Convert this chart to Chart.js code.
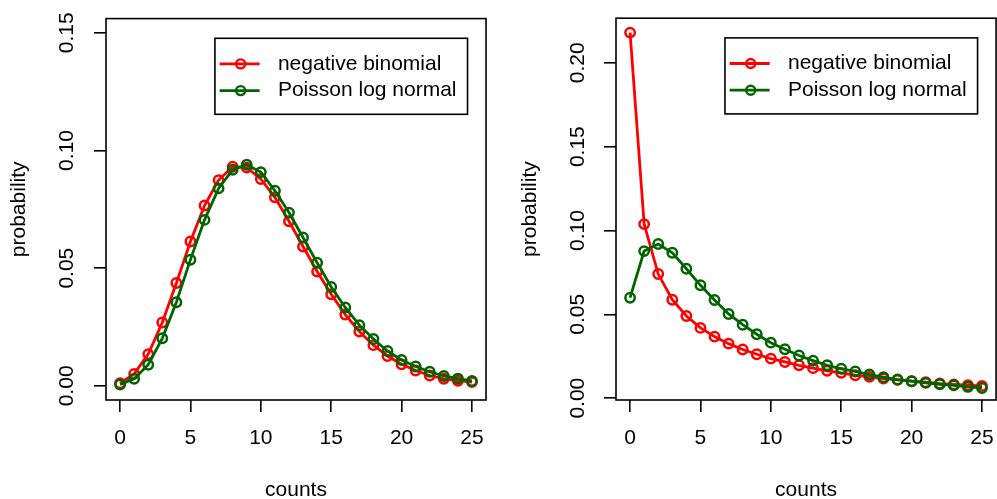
<!DOCTYPE html>
<html>
<head>
<meta charset="utf-8">
<script src="https://cdn.jsdelivr.net/npm/chart.js@4.4.1/dist/chart.umd.min.js"></script>
<style>
  html, body { margin: 0; padding: 0; background: #fff; overflow: hidden; }
  #wrap { position: relative; width: 997px; height: 499px; overflow: hidden; }
  canvas { position: absolute; top: 0; }
  #left { left: 0; }
  #right { left: 498px; }
</style>
</head>
<body>
<div id="wrap">
  <canvas id="left" width="498" height="499"></canvas>
  <canvas id="right" width="510" height="499"></canvas>
</div>
<script>
// data
const counts = [0, 1, 2, 3, 4, 5, 6, 7, 8, 9, 10, 11, 12, 13, 14, 15, 16, 17, 18, 19, 20, 21, 22, 23, 24, 25];
const seriesNames = ['negative binomial', 'Poisson log normal'];

const leftNegBin = [0.0011, 0.0051, 0.0135, 0.0269, 0.0437, 0.0613, 0.0766, 0.0874, 0.0931, 0.0927, 0.0879, 0.0801, 0.0699,
  0.0592, 0.0486, 0.0389, 0.0303, 0.0231, 0.0173, 0.0127, 0.0092, 0.0065, 0.0044, 0.0030, 0.0022, 0.0016];
const leftPoisLN = [0.0006, 0.0030, 0.0090, 0.0202, 0.0355, 0.0536, 0.0705, 0.0839, 0.0918, 0.0939, 0.0908, 0.0829, 0.0736,
  0.0630, 0.0523, 0.0420, 0.0333, 0.0258, 0.0199, 0.0148, 0.0110, 0.0082, 0.0060, 0.0042, 0.0031, 0.0021];

const rightNegBin = [0.2180, 0.1038, 0.0740, 0.0587, 0.0490, 0.0419, 0.0367, 0.0325, 0.0290, 0.0262, 0.0236, 0.0216, 0.0196,
  0.0179, 0.0163, 0.0151, 0.0137, 0.0127, 0.0117, 0.0109, 0.0101, 0.0095, 0.0087, 0.0082, 0.0077, 0.0073];
const rightPoisLN = [0.0599, 0.0877, 0.0919, 0.0867, 0.0772, 0.0673, 0.0585, 0.0502, 0.0438, 0.0381, 0.0331, 0.0292, 0.0254,
  0.0224, 0.0196, 0.0175, 0.0159, 0.0141, 0.0125, 0.0111, 0.0101, 0.0091, 0.0083, 0.0076, 0.0067, 0.0061];

const xTicks = [0, 5, 10, 15, 20, 25];
const leftYTicks = [0, 0.05, 0.10, 0.15];
const rightYTicks = [0, 0.05, 0.10, 0.15, 0.20];

const FONT = "'Liberation Sans', Arial, Helvetica, sans-serif";
Chart.defaults.font.family = FONT;
Chart.defaults.font.size = 21;
Chart.defaults.color = '#000';

// R style frame around the plot region plus the legend box in the top right
const rFrame = {
  id: 'rFrame',
  afterDraw(chart) {
    const ctx = chart.ctx;
    const a = chart.chartArea;
    ctx.save();
    ctx.strokeStyle = '#000';
    ctx.lineWidth = 1.6;
    ctx.strokeRect(a.left, a.top, a.right - a.left, a.bottom - a.top);

    // legend
    ctx.font = '21px ' + FONT;
    const widths = chart.data.datasets.map(d => ctx.measureText(d.label).width);
    const boxW = 63 + Math.max(...widths) + 11;
    const boxH = 76;
    const bx = a.right - 18.5 - boxW;
    const by = a.top + 19.7;
    ctx.fillStyle = '#fff';
    ctx.fillRect(bx, by, boxW, boxH);
    ctx.strokeRect(bx, by, boxW, boxH);
    chart.data.datasets.forEach((d, i) => {
      const y = by + 25.6 + i * 26.7;
      ctx.strokeStyle = d.borderColor;
      ctx.lineWidth = 2.8;
      ctx.beginPath();
      ctx.moveTo(bx + 4.7, y);
      ctx.lineTo(bx + 44.7, y);
      ctx.stroke();
      ctx.lineWidth = 2.4;
      ctx.beginPath();
      ctx.arc(bx + 25.7, y, 4.5, 0, Math.PI * 2);
      ctx.stroke();
      ctx.fillStyle = '#000';
      ctx.textBaseline = 'middle';
      ctx.textAlign = 'left';
      ctx.fillText(d.label, bx + 63, y);
    });
    ctx.restore();
  }
};

function makePanel(id, negBin, poisLN, yMin, yMax, yTicks, opts) {
  const ctx = document.getElementById(id).getContext('2d');
  return new Chart(ctx, {
    type: 'line',
    data: {
      datasets: [
        {
          label: seriesNames[0],
          data: counts.map((c, i) => ({x: c, y: negBin[i]})),
          borderColor: '#ff0000',
          borderWidth: 2.8,
          pointRadius: 4.7,
          pointBorderWidth: 2.5,
          pointBackgroundColor: 'rgba(0,0,0,0)',
          pointBorderColor: '#ff0000',
          tension: 0,
          order: 1
        },
        {
          label: seriesNames[1],
          data: counts.map((c, i) => ({x: c, y: poisLN[i]})),
          borderColor: '#006400',
          borderWidth: 2.8,
          pointRadius: 4.7,
          pointBorderWidth: 2.5,
          pointBackgroundColor: 'rgba(0,0,0,0)',
          pointBorderColor: '#006400',
          tension: 0,
          order: 0
        }
      ]
    },
    options: {
      responsive: false,
      animation: false,
      layout: { padding: { top: 17, right: opts.padRight, bottom: 0, left: 0 } },
      plugins: { legend: { display: false }, tooltip: { enabled: false } },
      scales: {
        x: {
          type: 'linear',
          min: -1,
          max: 26,
          afterBuildTicks: s => { s.ticks = xTicks.map(v => ({value: v})); },
          afterFit: s => { s.height = 99; },
          grid: { drawOnChartArea: false, drawTicks: true, tickLength: 12, color: '#000', lineWidth: 1.6 },
          border: { display: false },
          ticks: { padding: 14, autoSkip: false, maxRotation: 0, color: '#000',
            callback: v => String(v) },
          title: { display: true, text: 'counts', color: '#000',
            font: { size: 21, lineHeight: 1 }, padding: { top: 0, bottom: -1.5 } }
        },
        y: {
          type: 'linear',
          min: yMin,
          max: yMax,
          afterBuildTicks: s => { s.ticks = yTicks.map(v => ({value: v})); },
          afterFit: s => { s.width = opts.yWidth; },
          grid: { drawOnChartArea: false, drawTicks: true, tickLength: 12, color: '#000', lineWidth: 1.6 },
          border: { display: false },
          ticks: { padding: opts.yLabelPad, autoSkip: false, minRotation: 90, maxRotation: 90,
            crossAlign: 'center', color: '#000', callback: v => v.toFixed(2) },
          title: { display: true, text: 'probability', color: '#000',
            font: { size: 21, lineHeight: 1 }, padding: { top: opts.yTitlePad, bottom: 0 } }
        }
      }
    },
    plugins: [rFrame]
  });
}

makePanel('left', leftNegBin, leftPoisLN, -0.006, 0.156, leftYTicks,
  { padRight: 10, yWidth: 106, yLabelPad: 6, yTitlePad: 8.5 });
makePanel('right', rightNegBin, rightPoisLN, -0.0011, 0.2266, rightYTicks,
  { padRight: 9, yWidth: 118, yLabelPad: 5.6, yTitlePad: 21.3 });
</script>
</body>
</html>
